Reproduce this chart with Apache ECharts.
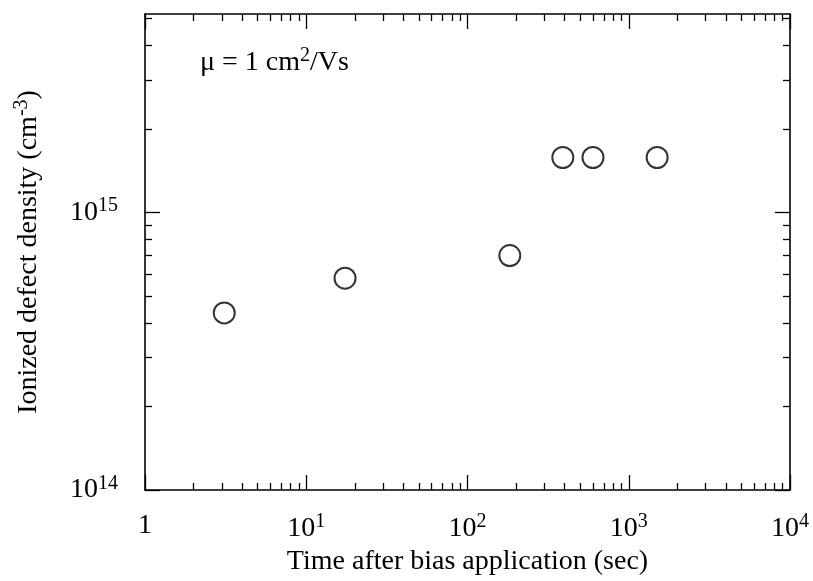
<!DOCTYPE html>
<html>
<head>
<meta charset="utf-8">
<script src="https://cdn.jsdelivr.net/npm/echarts@6/dist/echarts.min.js"></script>
<style>
  html, body { margin: 0; padding: 0; background: #fff; }
  #chart { width: 813px; height: 581px; }
</style>
</head>
<body>
<div id="chart"></div>
<script>
// data
var timeSec = [3.1, 17.4, 183, 390, 600, 1500];
var density = [4.35e14, 5.8e14, 7.0e14, 1.58e15, 1.58e15, 1.58e15];

var xMajor = [1, 10, 100, 1000, 10000];
var yMajor = [1e14, 1e15];
var xMinor = [];
for (var d = 1; d < 10000; d *= 10) {
  for (var m = 2; m <= 9; m++) xMinor.push(m * d);
}
var yMinor = [2e14, 3e14, 4e14, 5e14, 6e14, 7e14, 8e14, 9e14, 2e15, 3e15, 4e15, 5e15];

var FONT = 'Liberation Serif';
var supRich = {
  base: { fontFamily: FONT, fontSize: 28, color: '#000' },
  sup: { fontFamily: FONT, fontSize: 20, color: '#000', padding: [0, 0, 13, 0] }
};

function powLabel(v) {
  var e = Math.round(Math.log(v) / Math.LN10);
  if (e === 0) return '{base|1}';
  return '{base|10}{sup|' + e + '}';
}

function logAxis(pos, lo, hi, opts) {
  var a = {
    type: 'log', logBase: 10, min: lo, max: hi, position: pos,
    axisLine: { show: opts.line, lineStyle: { color: '#000', width: 1.6 } },
    axisTick: { show: true, inside: true, length: opts.len, customValues: opts.ticks,
      lineStyle: { color: '#000', width: 1.3 } },
    axisLabel: { show: false },
    splitLine: { show: false }
  };
  if (opts.labels) {
    a.axisLabel = { show: true, customValues: opts.ticks, formatter: powLabel,
      margin: opts.margin, rich: supRich };
  }
  return a;
}

var X_MAX = 10000, Y_MIN = 1e14, Y_MAX = 5.2e15;

var xAxes = [
  logAxis('bottom', 1, X_MAX, { line: true, len: 15, ticks: xMajor, labels: true, margin: 22 }),
  logAxis('bottom', 1, X_MAX, { line: false, len: 7, ticks: xMinor }),
  logAxis('top', 1, X_MAX, { line: true, len: 15, ticks: xMajor }),
  logAxis('top', 1, X_MAX, { line: false, len: 7, ticks: xMinor })
];
xAxes[0].name = 'Time after bias application (sec)';
xAxes[0].nameLocation = 'middle';
xAxes[0].nameGap = 58;
xAxes[0].nameTextStyle = { fontFamily: FONT, fontSize: 28, color: '#000' };

var yAxes = [
  logAxis('left', Y_MIN, Y_MAX, { line: true, len: 15, ticks: yMajor, labels: true, margin: 27 }),
  logAxis('left', Y_MIN, Y_MAX, { line: false, len: 7, ticks: yMinor }),
  logAxis('right', Y_MIN, Y_MAX, { line: true, len: 15, ticks: yMajor }),
  logAxis('right', Y_MIN, Y_MAX, { line: false, len: 7, ticks: yMinor })
];
yAxes[0].name = '{base|Ionized defect density (cm}{sup|-3}{base|)}';
yAxes[0].nameLocation = 'middle';
yAxes[0].nameRotate = 90;
yAxes[0].nameGap = 100;
yAxes[0].nameTextStyle = { rich: supRich };

var chart = echarts.init(document.getElementById('chart'));
chart.setOption({
  animation: false,
  backgroundColor: '#fff',
  grid: { left: 145, right: 23, top: 14, bottom: 91 },
  xAxis: xAxes,
  yAxis: yAxes,
  graphic: [{
    type: 'text', left: 200, top: 46,
    style: {
      text: '{base|\u03bc = 1 cm}{sup|2}{base|/Vs}',
      rich: supRich
    }
  }],
  series: [{
    type: 'scatter',
    xAxisIndex: 0, yAxisIndex: 0,
    symbol: 'emptyCircle', symbolSize: 21,
    itemStyle: { color: '#000', borderWidth: 2 },
    data: timeSec.map(function (t, i) { return [t, density[i]]; })
  }]
});
</script>
</body>
</html>
